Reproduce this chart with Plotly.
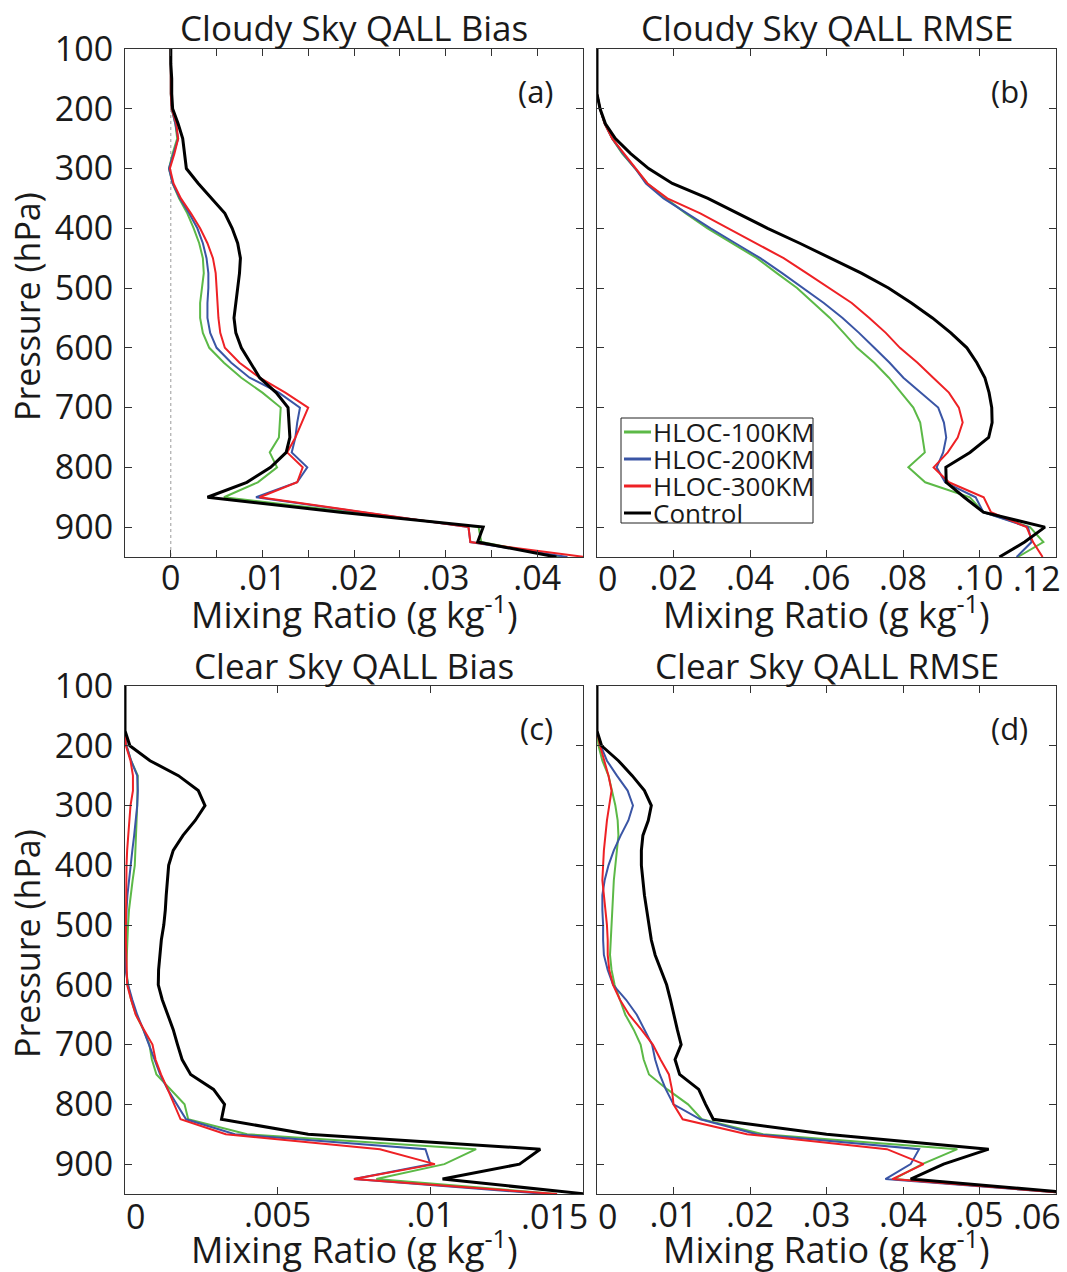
import plotly.graph_objects as go

# ---------------- data ----------------
pressure_hpa = [100, 125, 150, 175, 200, 225, 250, 275, 300, 325, 350, 375, 400,
                425, 450, 475, 500, 525, 550, 575, 600, 625, 650, 675, 700, 725,
                750, 775, 800, 825, 850, 875, 900, 925, 950]

series_names = ["HLOC-100KM", "HLOC-200KM", "HLOC-300KM", "Control"]
series_colors = ["#5cb947", "#3a55a5", "#ee2125", "#000000"]
series_widths = [2, 2, 2, 3]

# (a) Cloudy sky bias
cloudy_bias_100km = [0, 0, 0, 0, 0.0001, 0.0005, 0.0007, 0.0002, -0.0002, 0.0002, 0.0009, 0.0018, 0.0025,
                     0.0031, 0.0035, 0.0036, 0.0034, 0.0032, 0.0032, 0.0035, 0.0042, 0.0058, 0.0077, 0.0100,
                     0.0120, 0.0119, 0.0118, 0.0108, 0.0116, 0.0095, 0.0058, 0.0197, 0.0336, 0.0339, 0.0425]
cloudy_bias_200km = [0, 0, 0, 0, 0.0001, 0.0005, 0.0008, 0.0003, -0.0002, 0.0002, 0.0010, 0.0020, 0.0029,
                     0.0035, 0.0039, 0.0041, 0.0041, 0.0040, 0.0040, 0.0043, 0.0050, 0.0066, 0.0086, 0.0118,
                     0.0141, 0.0138, 0.0136, 0.0132, 0.0149, 0.0138, 0.0093, 0.0209, 0.0325, 0.0327, 0.0433]
cloudy_bias_300km = [0, 0, 0, 0, 0.0001, 0.0006, 0.0008, 0.0004, -0.0001, 0.0003, 0.0011, 0.0022, 0.0032,
                     0.0040, 0.0046, 0.0049, 0.0050, 0.0051, 0.0052, 0.0054, 0.0059, 0.0075, 0.0097, 0.0125,
                     0.0150, 0.0143, 0.0136, 0.0127, 0.0144, 0.0138, 0.0097, 0.0211, 0.0325, 0.0327, 0.0452]
cloudy_bias_ctrl = [0, 0, 0.0001, 0.0001, 0.0002, 0.0008, 0.0013, 0.0015, 0.0017, 0.0030, 0.0045, 0.0059, 0.0067,
                    0.0073, 0.0076, 0.0075, 0.0073, 0.0071, 0.0069, 0.0071, 0.0077, 0.0087, 0.0097, 0.0115,
                    0.0128, 0.0129, 0.0130, 0.0126, 0.0109, 0.0083, 0.0040, 0.0185, 0.0341, 0.0335, 0.0421]

# (b) Cloudy sky RMSE
cloudy_rmse_100km = [0, 0, 0, 0, 0.0008, 0.0020, 0.0040, 0.0066, 0.0100, 0.0132, 0.0180, 0.0232, 0.0289,
                     0.0354, 0.0418, 0.0470, 0.0523, 0.0566, 0.0609, 0.0645, 0.0680, 0.0725, 0.0763, 0.0795,
                     0.0827, 0.0845, 0.0851, 0.0857, 0.0814, 0.0858, 0.0975, 0.1010, 0.1132, 0.1167, 0.1100]
cloudy_rmse_200km = [0, 0, 0, 0, 0.0008, 0.0020, 0.0040, 0.0068, 0.0100, 0.0128, 0.0174, 0.0235, 0.0297,
                     0.0362, 0.0427, 0.0484, 0.0540, 0.0593, 0.0642, 0.0685, 0.0725, 0.0765, 0.0801, 0.0848,
                     0.0892, 0.0907, 0.0913, 0.0905, 0.0888, 0.0910, 0.0990, 0.1010, 0.1127, 0.1136, 0.1097]
cloudy_rmse_300km = [0, 0, 0, 0, 0.0008, 0.0020, 0.0040, 0.0070, 0.0101, 0.0132, 0.0184, 0.0270, 0.0343,
                     0.0415, 0.0488, 0.0548, 0.0607, 0.0666, 0.0712, 0.0755, 0.0792, 0.0838, 0.0879, 0.0920,
                     0.0946, 0.0956, 0.0943, 0.0917, 0.0880, 0.0920, 0.1011, 0.1030, 0.1123, 0.1140, 0.1165]
cloudy_rmse_ctrl = [0, 0, 0, 0, 0.0008, 0.0022, 0.0048, 0.0088, 0.0135, 0.0197, 0.0290, 0.0368, 0.0446,
                    0.0530, 0.0611, 0.0691, 0.0762, 0.0822, 0.0877, 0.0925, 0.0967, 0.0993, 0.1014, 0.1025,
                    0.1032, 0.1033, 0.1024, 0.0975, 0.0912, 0.0913, 0.0960, 0.1010, 0.1171, 0.1118, 0.1052]

# (c) Clear sky bias
clear_bias_100km = [0, 0, 0, 0, 0.00005, 0.00020, 0.00042, 0.00042, 0.00040, 0.00038, 0.00036, 0.00034, 0.00032,
                    0.00025, 0.00018, 0.00013, 0.00010, 0.00008, 0.00006, 0.00004, 0.00010, 0.00020, 0.00036,
                    0.00060, 0.00080, 0.00088, 0.00103, 0.00150, 0.00195, 0.00207, 0.00400, 0.01150, 0.01046,
                    0.00823, 0.01415]
clear_bias_200km = [0, 0, 0, 0, 0.00005, 0.00020, 0.00040, 0.00042, 0.00040, 0.00036, 0.00030, 0.00024, 0.00018,
                    0.00012, 0.00008, 0.00005, 0.00003, 0.00002, 0.00001, 0.00002, 0.00010, 0.00024, 0.00040,
                    0.00060, 0.00078, 0.00095, 0.00115, 0.00140, 0.00170, 0.00200, 0.00360, 0.00984, 0.01000,
                    0.00750, 0.01380]
clear_bias_300km = [0, 0, 0, 0, 0.00003, 0.00018, 0.00026, 0.00026, 0.00018, 0.00014, 0.00010, 0.00007, 0.00005,
                    0.00004, 0.00003, 0.00003, 0.00003, 0.00003, 0.00004, 0.00005, 0.00007, 0.00020, 0.00035,
                    0.00062, 0.00090, 0.00100, 0.00118, 0.00140, 0.00160, 0.00182, 0.00330, 0.00835, 0.01015,
                    0.00750, 0.01415]
clear_bias_ctrl = [0, 0, 0, 0, 0.00016, 0.00082, 0.00175, 0.00240, 0.00262, 0.00230, 0.00190, 0.00158, 0.00143,
                   0.00138, 0.00135, 0.00132, 0.00127, 0.00119, 0.00114, 0.00110, 0.00109, 0.00122, 0.00140,
                   0.00158, 0.00172, 0.00187, 0.00215, 0.00290, 0.00326, 0.00316, 0.00600, 0.01360, 0.01292,
                   0.01040, 0.01510]

# (d) Clear sky RMSE
clear_rmse_100km = [0, 0, 0, 0, 0.0002, 0.0007, 0.0015, 0.0020, 0.0024, 0.0027, 0.0028, 0.0026, 0.0024,
                    0.0022, 0.0021, 0.0020, 0.0019, 0.0018, 0.0017, 0.0019, 0.0023, 0.0030, 0.0037, 0.0048,
                    0.0057, 0.0061, 0.0068, 0.0092, 0.0119, 0.0137, 0.0217, 0.0471, 0.0425, 0.0388, 0.0630]
clear_rmse_200km = [0, 0, 0, 0, 0.0005, 0.0013, 0.0026, 0.0040, 0.0047, 0.0041, 0.0031, 0.0022, 0.0015,
                    0.0010, 0.0007, 0.0007, 0.0008, 0.0008, 0.0009, 0.0014, 0.0021, 0.0038, 0.0052, 0.0062,
                    0.0072, 0.0076, 0.0082, 0.0090, 0.0100, 0.0135, 0.0209, 0.0421, 0.0410, 0.0377, 0.0630]
clear_rmse_300km = [0, 0, 0, 0, 0.0004, 0.0010, 0.0015, 0.0019, 0.0016, 0.0013, 0.0011, 0.0009, 0.0008,
                    0.0007, 0.0009, 0.0011, 0.0013, 0.0014, 0.0014, 0.0016, 0.0021, 0.0030, 0.0042, 0.0058,
                    0.0073, 0.0083, 0.0094, 0.0098, 0.0100, 0.0112, 0.0196, 0.0379, 0.0427, 0.0386, 0.0630]
clear_rmse_ctrl = [0, 0, 0, 0, 0.0006, 0.0028, 0.0046, 0.0062, 0.0071, 0.0067, 0.0060, 0.0058, 0.0058,
                   0.0060, 0.0062, 0.0065, 0.0068, 0.0071, 0.0076, 0.0083, 0.0091, 0.0096, 0.0101, 0.0105,
                   0.0110, 0.0102, 0.0108, 0.0133, 0.0142, 0.0152, 0.0300, 0.0512, 0.0453, 0.0410, 0.0640]

panel_titles = ["Cloudy Sky QALL Bias", "Cloudy Sky QALL RMSE",
                "Clear Sky QALL Bias", "Clear Sky QALL RMSE"]
panel_tags = ["(a)", "(b)", "(c)", "(d)"]

# x-axis ticks and labels per panel
x_ranges = [[-0.005, 0.045], [0, 0.12], [0, 0.015], [0, 0.06]]
x_tickvals = [
    [0, 0.005, 0.01, 0.015, 0.02, 0.025, 0.03, 0.035, 0.04],
    [0, 0.02, 0.04, 0.06, 0.08, 0.10, 0.12],
    [0, 0.005, 0.01, 0.015],
    [0, 0.01, 0.02, 0.03, 0.04, 0.05, 0.06],
]
x_ticktext = [
    ["0", "", ".01", "", ".02", "", ".03", "", ".04"],
    ["0", ".02", ".04", ".06", ".08", ".10", ".12"],
    ["0", ".005", ".01", ".015"],
    ["0", ".01", ".02", ".03", ".04", ".05", ".06"],
]
p_ticks = [100, 200, 300, 400, 500, 600, 700, 800, 900]
p_range = [950, 100]

panels = [
    [cloudy_bias_100km, cloudy_bias_200km, cloudy_bias_300km, cloudy_bias_ctrl],
    [cloudy_rmse_100km, cloudy_rmse_200km, cloudy_rmse_300km, cloudy_rmse_ctrl],
    [clear_bias_100km, clear_bias_200km, clear_bias_300km, clear_bias_ctrl],
    [clear_rmse_100km, clear_rmse_200km, clear_rmse_300km, clear_rmse_ctrl],
]

# ---------------- layout geometry (pixels) ----------------
W, H = 1067, 1272
FONT = "Open Sans"
INK = "#1a1a1a"
TICK_SIZE = 34
cols_px = [(125, 583), (597, 1056)]
rows_px = [(49, 557), (686, 1194)]
xlabel_y = [578, 1216]


def px_x(v):
    return v / W


def px_y(v):
    return 1 - v / H


fig = go.Figure()

for i, series in enumerate(panels):
    suffix = "" if i == 0 else str(i + 1)
    for name, vals, col, lw in zip(series_names, series, series_colors, series_widths):
        fig.add_trace(go.Scatter(
            x=vals, y=pressure_hpa, mode="lines", name=name,
            line=dict(color=col, width=lw), showlegend=False,
            xaxis="x" + suffix, yaxis="y" + suffix,
        ))

axis_common = dict(
    showline=True, mirror="ticks", linecolor="#333333", linewidth=1.2,
    ticks="inside", ticklen=7, tickwidth=1, tickcolor="#333333",
    showgrid=False, zeroline=False, automargin=False,
    tickfont=dict(family=FONT, size=TICK_SIZE, color=INK),
)

annotations = []
for i in range(4):
    r, c = divmod(i, 2)
    suffix = "" if i == 0 else str(i + 1)
    x0, x1 = cols_px[c]
    y0, y1 = rows_px[r]
    labels = list(x_ticktext[i])
    # labels sitting on the frame edges are written flush with the frame instead of centred
    edge_first = x_tickvals[i][0] == x_ranges[i][0]
    edge_last = x_tickvals[i][-1] == x_ranges[i][1]
    if edge_first:
        annotations.append(dict(
            text=labels[0], x=x_tickvals[i][0], xref="x" + suffix, y=px_y(xlabel_y[r]), yref="paper",
            xanchor="left", yanchor="middle", showarrow=False, borderpad=0,
            font=dict(family=FONT, size=TICK_SIZE, color=INK)))
        labels[0] = ""
    if edge_last:
        annotations.append(dict(
            text=labels[-1], x=x_tickvals[i][-1], xref="x" + suffix, y=px_y(xlabel_y[r]), yref="paper",
            xanchor="right", yanchor="middle", showarrow=False, borderpad=0, xshift=6,
            font=dict(family=FONT, size=TICK_SIZE, color=INK)))
        labels[-1] = ""
    fig.update_layout(**{
        "xaxis" + suffix: dict(
            axis_common, domain=[px_x(x0), px_x(x1)], range=x_ranges[i],
            tickmode="array", tickvals=x_tickvals[i], ticktext=labels,
            ticklabelstandoff=-9, anchor="y" + suffix,
        ),
        "yaxis" + suffix: dict(
            axis_common, domain=[px_y(y1), px_y(y0)], range=p_range,
            tickmode="array", tickvals=p_ticks, ticktext=[str(p) for p in p_ticks],
            showticklabels=(c == 0), ticklabelstandoff=4,
            anchor="x" + suffix,
        ),
    })

# zero reference line in the cloudy-sky bias panel
fig.add_shape(type="line", xref="x", yref="y", x0=0, x1=0, y0=100, y1=950,
              line=dict(color="#9a9a9a", width=1, dash="dot"), layer="below")

title_y = [27, 665]
xtitle_y = [612, 1247]
for i in range(4):
    r, c = divmod(i, 2)
    x0, x1 = cols_px[c]
    cx = (x0 + x1) / 2
    annotations.append(dict(
        text=panel_titles[i], x=px_x(cx), y=px_y(title_y[r]), xref="paper", yref="paper",
        xanchor="center", yanchor="middle", showarrow=False,
        font=dict(family=FONT, size=35, color=INK)))
    annotations.append(dict(
        text="Mixing Ratio (g kg<sup>-1</sup>)", x=px_x(cx), y=px_y(xtitle_y[r]),
        xref="paper", yref="paper", xanchor="center", yanchor="middle", showarrow=False,
        font=dict(family=FONT, size=36, color=INK)))
    annotations.append(dict(
        text=panel_tags[i], x=px_x(x1 - 47), y=px_y(rows_px[r][0] + 42),
        xref="paper", yref="paper", xanchor="center", yanchor="middle", showarrow=False,
        font=dict(family=FONT, size=31, color=INK)))
for r in range(2):
    annotations.append(dict(
        text="Pressure (hPa)", x=px_x(27), y=px_y((rows_px[r][0] + rows_px[r][1]) / 2 + 4),
        xref="paper", yref="paper", xanchor="center", yanchor="middle", showarrow=False,
        textangle=-90, font=dict(family=FONT, size=34, color=INK)))

# legend box drawn inside panel (b)
leg_left, leg_right, leg_top, leg_bottom = 621, 813, 418, 523
shapes = [dict(type="rect", xref="paper", yref="paper",
               x0=px_x(leg_left), x1=px_x(leg_right), y0=px_y(leg_bottom), y1=px_y(leg_top),
               line=dict(color="#222222", width=1), fillcolor="white", layer="above")]
entry_y = [432, 459, 486, 513]
for name, col, ey in zip(series_names, series_colors, entry_y):
    shapes.append(dict(type="line", xref="paper", yref="paper",
                       x0=px_x(624), x1=px_x(651), y0=px_y(ey), y1=px_y(ey),
                       line=dict(color=col, width=3), layer="above"))
    annotations.append(dict(
        text=name, x=px_x(651), y=px_y(ey), xref="paper", yref="paper",
        xanchor="left", yanchor="middle", showarrow=False,
        font=dict(family=FONT, size=26, color=INK)))

fig.update_layout(
    width=W, height=H, margin=dict(l=0, r=0, t=0, b=0, autoexpand=False),
    paper_bgcolor="white", plot_bgcolor="white",
    showlegend=False, annotations=annotations,
    shapes=list(fig.layout.shapes) + shapes,
)

fig.write_html("out.html")
